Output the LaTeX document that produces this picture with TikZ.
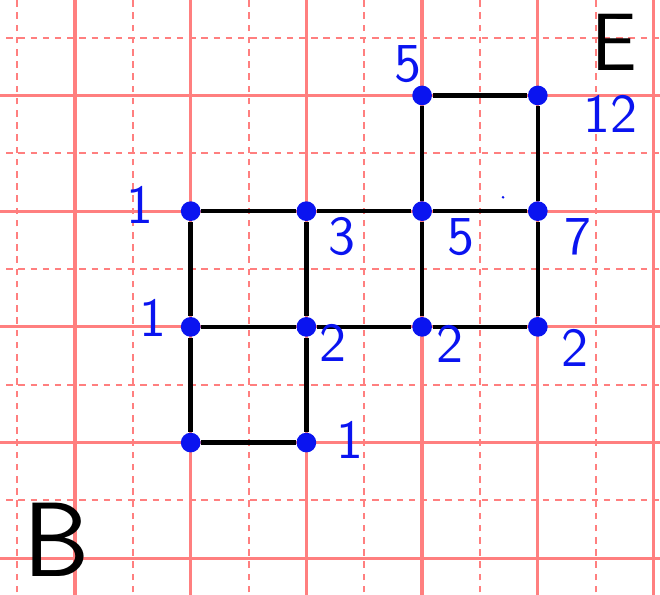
\documentclass[tikz,border=0pt]{standalone}
\usepackage{xcolor}
\usepackage{tikz}
\usetikzlibrary{positioning}
\definecolor{gridred}{HTML}{FF7F7F}
\definecolor{penblue}{HTML}{0A14F0}

\begin{document}
\begin{tikzpicture}[
  major/.style={gridred,line width=0.8pt},
  minor/.style={gridred,line width=0.5pt,dash pattern=on 1.6pt off 1.4pt},
  dot/.style={circle,fill=penblue,inner sep=0pt,minimum size=1.7mm},
  edg/.style={line width=1.1pt,black},
  num/.style={text=penblue,font=\sffamily\fontsize{13.5}{14}\selectfont,inner sep=0.5pt},
  letter/.style={inner sep=0pt}]

  \useasboundingbox (-0.648,-0.309) rectangle (5.056,4.825);
  \clip (-0.648,-0.309) rectangle (5.056,4.825);
  \fill[white] (-0.648,-0.309) rectangle (5.056,4.825);

  % paper grid
  \foreach \x in {-0.5,0.5,...,4.5} \draw[minor] (\x,-0.4) -- (\x,4.9);
  \foreach \y in {0.5,1.5,...,4.5} \draw[minor] (-0.7,\y) -- (5.1,\y);
  \foreach \x in {0,...,5} \draw[major] (\x,-0.4) -- (\x,4.9);
  \foreach \y in {0,...,4} \draw[major] (-0.7,\y) -- (5.1,\y);

  % lattice points
  \node[dot] (n34) at (3,4) {};
  \node[dot] (n44) at (4,4) {};
  \node[dot] (n13) at (1,3) {};
  \node[dot] (n23) at (2,3) {};
  \node[dot] (n33) at (3,3) {};
  \node[dot] (n43) at (4,3) {};
  \node[dot] (n12) at (1,2) {};
  \node[dot] (n22) at (2,2) {};
  \node[dot] (n32) at (3,2) {};
  \node[dot] (n42) at (4,2) {};
  \node[dot] (n11) at (1,1) {};
  \node[dot] (n21) at (2,1) {};

  % streets
  \draw[edg] (n34) -- (n44);
  \draw[edg] (n13) -- (n23) -- (n33) -- (n43);
  \draw[edg] (n12) -- (n22) -- (n32) -- (n42);
  \draw[edg] (n11) -- (n21);
  \draw[edg] (n13) -- (n12) -- (n11);
  \draw[edg] (n23) -- (n22) -- (n21);
  \draw[edg] (n34) -- (n33) -- (n32);
  \draw[edg] (n44) -- (n43) -- (n42);
  \fill[penblue] (3.70,3.12) circle (0.012);

  % path counts
  \node[num] (c34) at (2.88,4.27) {5};
  \node[num] (c44) at (4.63,3.84) {12};
  \node[num] (c13) at (0.56,3.05) {1};
  \node[num] (c23) at (2.31,2.78) {3};
  \node[num] (c33) at (3.34,2.78) {5};
  \node[num] (c43) at (4.35,2.78) {7};
  \node[num] (c12) at (0.67,2.08) {1};
  \node[num] (c22) at (2.23,1.86) {2};
  \node[num] (c32) at (3.24,1.85) {2};
  \node[num] (c42) at (4.32,1.82) {2};
  \node[num] (c21) at (2.38,1.02) {1};

  % start and end
  \node[letter,font=\sffamily\fontsize{20}{20}\selectfont] (E) at (4.66,4.46) {E};
  \node[letter,font=\sffamily\fontsize{26}{26}\selectfont] (B) at (-0.16,0.16) {B};
\end{tikzpicture}
\end{document}
